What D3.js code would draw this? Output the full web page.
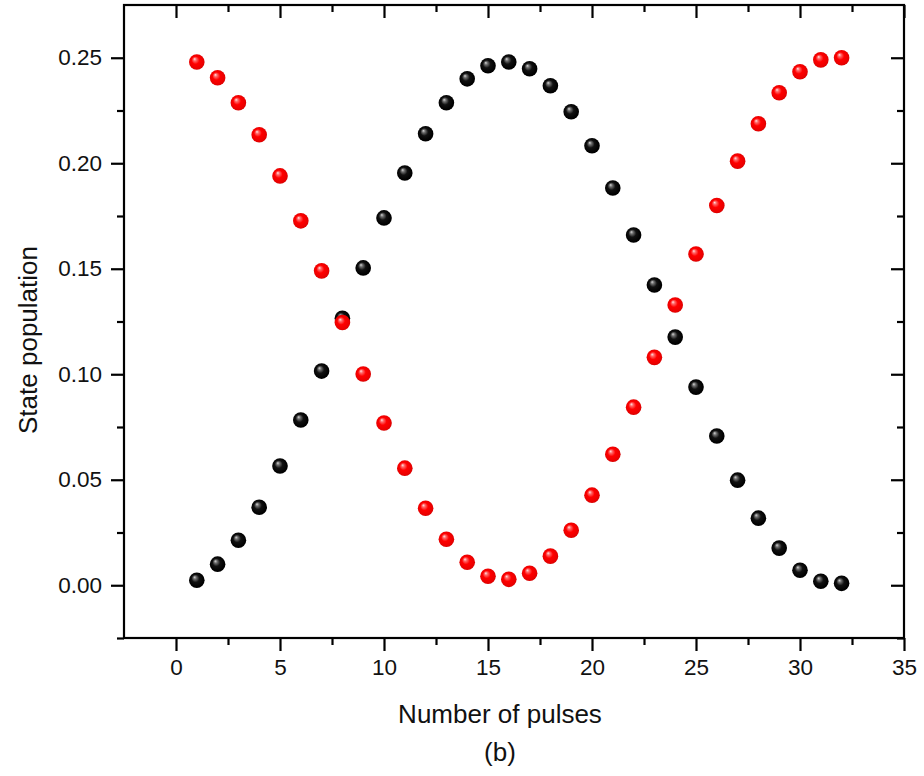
<!DOCTYPE html>
<html>
<head>
<meta charset="utf-8">
<script src="https://cdn.jsdelivr.net/npm/d3@7"></script>
<style>
  html, body { margin: 0; padding: 0; background: #fff; }
  svg { display: block; }
  text { font-family: "Liberation Sans", Arial, sans-serif; fill: #111; }
</style>
</head>
<body>
<svg id="chart" width="924" height="776"></svg>
<script>
// Pulse number along the x axis
const pulses = d3.range(1, 33);

// Population of the two states after each pulse
const redSeries = [
  0.2480, 0.2405, 0.2287, 0.2135, 0.1940, 0.1727, 0.1490, 0.1245,
  0.1001, 0.0769, 0.0555, 0.0365, 0.0218, 0.0109, 0.0043, 0.0028,
  0.0057, 0.0138, 0.0261, 0.0427, 0.0621, 0.0844, 0.1080, 0.1328,
  0.1570, 0.1800, 0.2010, 0.2187, 0.2334, 0.2434, 0.2490, 0.2500
];
const blackSeries = [
  0.0024, 0.0100, 0.0213, 0.0370, 0.0565, 0.0783, 0.1015, 0.1265,
  0.1504, 0.1741, 0.1954, 0.2140, 0.2287, 0.2400, 0.2462, 0.2480,
  0.2448, 0.2367, 0.2244, 0.2083, 0.1883, 0.1660, 0.1423, 0.1176,
  0.0939, 0.0707, 0.0498, 0.0318, 0.0176, 0.0071, 0.0019, 0.0009
];

// Axis ticks
const xMajorTicks = [0, 5, 10, 15, 20, 25, 30, 35];
const xMinorTicks = [2.5, 7.5, 12.5, 17.5, 22.5, 27.5, 32.5];
const yMajorTicks = [0.00, 0.05, 0.10, 0.15, 0.20, 0.25];
const yMinorTicks = [-0.025, 0.025, 0.075, 0.125, 0.175, 0.225];

const svg = d3.select("#chart");
const plotLeft = 124, plotRight = 904, plotTop = 5, plotBottom = 638;

const x = d3.scaleLinear().domain([-2.5, 35]).range([plotLeft, plotRight]);
const y = d3.scaleLinear().domain([-0.025, 0.275]).range([plotBottom, plotTop]);

// Sphere shading for the markers
const defs = svg.append("defs");
function sphere(id, stops) {
  const g = defs.append("radialGradient")
    .attr("id", id).attr("cx", "50%").attr("cy", "50%").attr("r", "55%")
    .attr("fx", "35%").attr("fy", "30%");
  stops.forEach(([o, c]) => g.append("stop").attr("offset", o).attr("stop-color", c));
}
sphere("ballRed", [["0%", "#ffe8e8"], ["18%", "#ff6a6a"], ["45%", "#ff0000"], ["85%", "#e80000"], ["100%", "#c00000"]]);
sphere("ballBlack", [["0%", "#d8d8d8"], ["18%", "#707070"], ["45%", "#111111"], ["85%", "#000000"], ["100%", "#000000"]]);

// Frame
const axisStroke = 2.2;
const major = 13, minor = 7;

// Bottom axis: ticks outward with labels
const xBottom = svg.append("g").attr("transform", `translate(0,${plotBottom})`);
xBottom.call(d3.axisBottom(x).tickValues(xMajorTicks).tickSize(major).tickPadding(8).tickFormat(d3.format("d")));
xBottom.append("g").call(d3.axisBottom(x).tickValues(xMinorTicks).tickSize(minor).tickFormat(""));

// Top axis: ticks inward, no labels
const xTop = svg.append("g").attr("transform", `translate(0,${plotTop})`);
xTop.call(d3.axisBottom(x).tickValues(xMajorTicks).tickSize(major).tickFormat(""));
xTop.append("g").call(d3.axisBottom(x).tickValues(xMinorTicks).tickSize(minor).tickFormat(""));

// Left axis: ticks outward with labels
const yLeft = svg.append("g").attr("transform", `translate(${plotLeft},0)`);
yLeft.call(d3.axisLeft(y).tickValues(yMajorTicks).tickSize(major).tickPadding(9).tickFormat(d3.format(".2f")));
yLeft.append("g").call(d3.axisLeft(y).tickValues(yMinorTicks).tickSize(minor).tickFormat(""));

// Right axis: ticks inward, no labels
const yRight = svg.append("g").attr("transform", `translate(${plotRight},0)`);
yRight.call(d3.axisLeft(y).tickValues(yMajorTicks).tickSize(major).tickFormat(""));
yRight.append("g").call(d3.axisLeft(y).tickValues(yMinorTicks).tickSize(minor).tickFormat(""));

svg.selectAll(".domain").remove();
svg.selectAll(".tick line").attr("stroke", "#000").attr("stroke-width", axisStroke);
svg.selectAll(".tick text").style("font-size", "22.5px").attr("fill", "#111");

svg.append("rect")
  .attr("x", plotLeft).attr("y", plotTop)
  .attr("width", plotRight - plotLeft).attr("height", plotBottom - plotTop)
  .attr("fill", "none").attr("stroke", "#000").attr("stroke-width", axisStroke);

// Data markers: black series first, red drawn above it
const r = 7.8;
svg.append("g").selectAll("circle")
  .data(pulses.map((p, i) => [p, blackSeries[i]]))
  .join("circle")
  .attr("cx", d => x(d[0])).attr("cy", d => y(d[1])).attr("r", r)
  .attr("fill", "url(#ballBlack)");

svg.append("g").selectAll("circle")
  .data(pulses.map((p, i) => [p, redSeries[i]]))
  .join("circle")
  .attr("cx", d => x(d[0])).attr("cy", d => y(d[1])).attr("r", r)
  .attr("fill", "url(#ballRed)");

// Axis titles
svg.append("text")
  .attr("x", 500).attr("y", 723)
  .attr("text-anchor", "middle")
  .style("font-size", "26px")
  .text("Number of pulses");

svg.append("text")
  .attr("x", 500).attr("y", 761)
  .attr("text-anchor", "middle")
  .style("font-size", "26px")
  .text("(b)");

svg.append("text")
  .attr("transform", `translate(37,340) rotate(-90)`)
  .attr("text-anchor", "middle")
  .style("font-size", "26px")
  .text("State population");
</script>
</body>
</html>
